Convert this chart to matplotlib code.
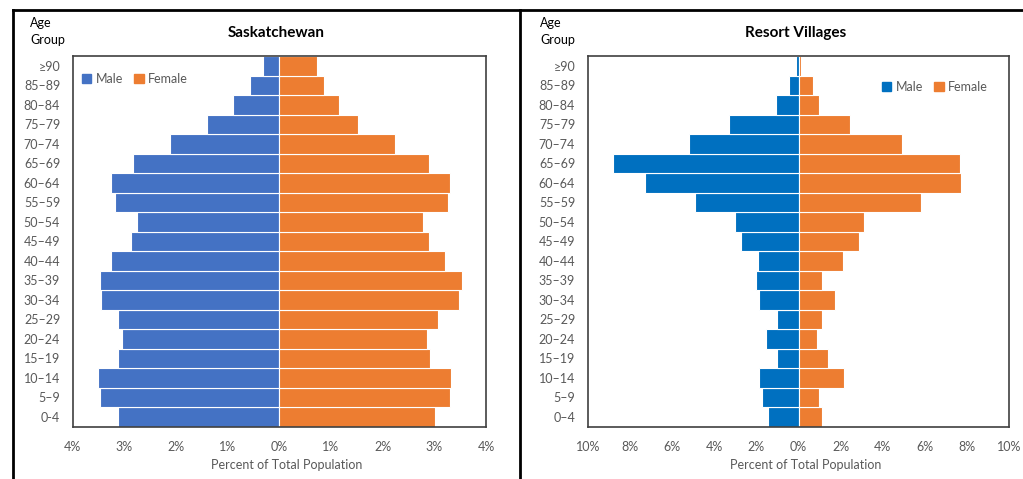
import matplotlib
matplotlib.use("Agg")
import matplotlib.pyplot as plt
from matplotlib.lines import Line2D
from matplotlib.patches import Patch
from matplotlib.ticker import FuncFormatter

plt.rcParams['font.family'] = ['Lato', 'DejaVu Sans']

# age groups, youngest first (bottom of the pyramid)
grupos_sk = ["0-4", "5–9", "10–14", "15–19", "20–24", "25–29", "30–34", "35–39",
             "40–44", "45–49", "50–54", "55–59", "60–64", "65–69", "70–74",
             "75–79", "80–84", "85–89", "≥90"]
grupos_rv = ["0–4"] + grupos_sk[1:]

# percent of total population
sk_homens = [3.13, 3.48, 3.51, 3.13, 3.04, 3.13, 3.45, 3.48, 3.25, 2.87, 2.76,
             3.19, 3.25, 2.84, 2.12, 1.40, 0.90, 0.56, 0.32]
sk_mulheres = [3.01, 3.30, 3.33, 2.92, 2.86, 3.07, 3.47, 3.53, 3.21, 2.89, 2.78,
               3.27, 3.30, 2.89, 2.23, 1.53, 1.16, 0.86, 0.72]

rv_homens = [1.45, 1.74, 1.87, 1.03, 1.52, 1.03, 1.87, 2.02, 1.94, 2.72, 3.00,
             4.93, 7.27, 8.82, 5.20, 3.29, 1.09, 0.47, 0.11]
rv_mulheres = [1.11, 0.96, 2.17, 1.39, 0.89, 1.11, 1.74, 1.11, 2.10, 2.88, 3.10,
               5.79, 7.72, 7.64, 4.93, 2.45, 0.96, 0.68, 0.11]

LARANJA = "#ED7D31"
CINZA = "#595959"

fig = plt.figure(figsize=(10.23, 4.79), dpi=100)
W, H = 1023, 479


def pyramid(ax, grupos, homens, mulheres, cor_homem, limite, passo, titulo, leg_xy):
    y = range(len(grupos))
    ax.barh(y, [-v for v in homens], height=1.0, color=cor_homem,
            edgecolor="white", linewidth=0.8, label="Male")
    ax.barh(y, mulheres, height=1.0, color=LARANJA,
            edgecolor="white", linewidth=0.8, label="Female")
    ax.set_ylim(-0.5, len(grupos) - 0.5)
    ax.set_xlim(-limite, limite)
    ax.set_yticks(list(y))
    ax.set_yticklabels(grupos)
    ax.set_xticks([t for t in range(-limite, limite + 1, passo)])
    ax.xaxis.set_major_formatter(FuncFormatter(lambda v, p: f"{abs(int(v))}%"))
    ax.tick_params(axis="both", length=0, labelsize=9, colors=CINZA)
    ax.tick_params(axis="y", pad=9)
    ax.tick_params(axis="x", pad=10)
    for s in ax.spines.values():
        s.set_color("#404040")
        s.set_linewidth(1.2)
    ax.set_xlabel("Percent of Total Population", fontsize=9, color=CINZA)
    ax.xaxis.set_label_coords(0.518, -0.088)
    ax.text(0.493, 1.062, titulo, transform=ax.transAxes, ha="center",
            va="center", fontsize=11, fontweight="bold")
    handles = [Patch(color=cor_homem, label="Male"), Patch(color=LARANJA, label="Female")]
    ax.legend(handles=handles, loc="upper left", bbox_to_anchor=leg_xy, ncol=2,
              frameon=False, fontsize=9, labelcolor=CINZA, borderpad=0,
              borderaxespad=0, handlelength=0.75, handleheight=0.75,
              handletextpad=0.35, columnspacing=0.9)


ax1 = fig.add_axes([72.7 / W, 1 - 426.7 / H, 413.3 / W, 370.7 / H])
pyramid(ax1, grupos_sk, sk_homens, sk_mulheres, "#4472C4", 4, 1,
        "Saskatchewan", (0.022, 0.955))

ax2 = fig.add_axes([587.7 / W, 1 - 426.7 / H, 421.6 / W, 370.7 / H])
pyramid(ax2, grupos_rv, rv_homens, rv_mulheres, "#0070C0", 10, 2,
        "Resort Villages", (0.698, 0.932))

for x in (30, 540):
    fig.text(x / W, 1 - 17 / H, "Age\nGroup", ha="left", va="top",
             fontsize=9, linespacing=1.45)

# outer frame around both panels
topo = 1 - 10 / H
fig.add_artist(Line2D([12.5 / W, 1], [topo, topo], color="black", lw=2,
                      transform=fig.transFigure))
for x in (12.5, 519.5):
    fig.add_artist(Line2D([x / W, x / W], [0, topo], color="black", lw=2,
                          transform=fig.transFigure))

fig.savefig("out.png", dpi=100)
